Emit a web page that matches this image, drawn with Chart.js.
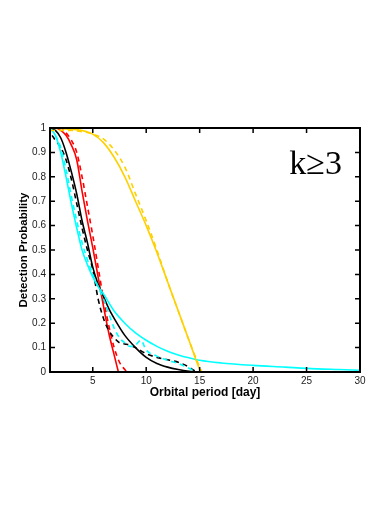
<!DOCTYPE html>
<html>
<head>
<meta charset="utf-8">
<script src="https://cdn.jsdelivr.net/npm/chart.js@4"></script>
<style>
  html, body { margin: 0; padding: 0; background: #fff; }
  #wrap { width: 381px; height: 523px; position: relative; }
</style>
</head>
<body>
<div id="wrap"><canvas id="chart"></canvas></div>
<script>
// period grids and detection probabilities
const cyanSolidX = [1, 1.5, 2, 2.5, 3, 3.5, 4, 4.5, 5, 5.5, 6, 7, 8, 9, 10, 11, 12, 13, 14, 15, 17, 20, 23, 25, 28, 30];
const cyanSolidY = [1, 0.97, 0.9, 0.8, 0.69, 0.59, 0.5, 0.44, 0.39, 0.35, 0.32, 0.25, 0.2, 0.16, 0.13, 0.105, 0.085, 0.07, 0.058, 0.048, 0.037, 0.027, 0.02, 0.015, 0.01, 0.007];

const cyanDashX = [1, 1.5, 2, 2.5, 3, 3.5, 4, 4.5, 5, 5.5, 6, 6.5, 7, 7.5, 8, 8.5, 9, 9.5, 10, 11, 12, 13, 14, 14.7];
const cyanDashY = [1, 0.97, 0.92, 0.83, 0.72, 0.62, 0.53, 0.46, 0.4, 0.35, 0.3, 0.24, 0.18, 0.14, 0.12, 0.105, 0.11, 0.13, 0.09, 0.065, 0.048, 0.035, 0.015, 0];

const blackSolidX = [1, 1.5, 2, 2.5, 3, 3.5, 4, 4.5, 5, 5.5, 6, 6.5, 7, 8, 9, 10, 11, 12, 13, 14, 14.7];
const blackSolidY = [1, 0.99, 0.96, 0.9, 0.82, 0.73, 0.62, 0.53, 0.43, 0.36, 0.31, 0.26, 0.22, 0.15, 0.1, 0.06, 0.035, 0.02, 0.01, 0.003, 0];

const blackDashX = [1.2, 1.5, 2, 2.5, 3, 3.5, 4, 4.5, 5, 5.5, 6, 6.5, 7, 7.5, 8, 8.5, 9, 10, 11, 12, 13, 14, 14.7];
const blackDashY = [0.97, 0.95, 0.92, 0.87, 0.79, 0.69, 0.59, 0.5, 0.42, 0.3, 0.22, 0.17, 0.14, 0.12, 0.115, 0.11, 0.1, 0.075, 0.06, 0.05, 0.04, 0.02, 0];

const redSolidX = [1, 1.5, 2, 2.5, 3, 3.5, 4, 4.5, 5, 5.5, 6, 6.5, 7, 7.4];
const redSolidY = [1, 1, 0.99, 0.97, 0.93, 0.87, 0.74, 0.62, 0.51, 0.39, 0.27, 0.16, 0.07, 0];

const redDashX = [1, 2, 2.5, 3, 3.5, 4, 4.5, 5, 5.5, 6, 6.5, 7, 7.5, 8, 8.2];
const redDashY = [1, 1, 0.98, 0.95, 0.9, 0.8, 0.68, 0.56, 0.43, 0.3, 0.19, 0.1, 0.04, 0.01, 0];

const yellowSolidX = [1, 3, 4, 5, 6, 7, 8, 9, 10, 11, 12, 13, 14, 15, 15.1];
const yellowSolidY = [1, 0.995, 0.99, 0.975, 0.94, 0.88, 0.8, 0.7, 0.6, 0.49, 0.37, 0.25, 0.13, 0.01, 0];

const yellowDashX = [1, 2, 3, 4, 5, 6, 7, 8, 9, 10, 11, 12, 13, 14, 15, 15.2];
const yellowDashY = [0.99, 0.99, 0.99, 0.985, 0.975, 0.955, 0.91, 0.84, 0.73, 0.62, 0.5, 0.37, 0.25, 0.13, 0.02, 0];

const xTicks = [5, 10, 15, 20, 25, 30];
const yTicks = [0, 0.1, 0.2, 0.3, 0.4, 0.5, 0.6, 0.7, 0.8, 0.9, 1];

const toPoints = (xs, ys) => xs.map((x, i) => ({ x, y: ys[i] }));

function series(xs, ys, color, dashed) {
  return {
    data: toPoints(xs, ys),
    borderColor: color,
    borderWidth: 1.6,
    borderDash: dashed ? [5, 4] : [],
    pointRadius: 0,
    tension: 0.4,
    cubicInterpolationMode: 'monotone',
    fill: false,
    clip: 2
  };
}

const frameAndTicks = {
  id: 'frameAndTicks',
  afterDraw(chart) {
    const { ctx, chartArea: a, scales } = chart;
    ctx.save();
    ctx.strokeStyle = '#000';
    ctx.lineWidth = 1.5;
    ctx.beginPath();
    xTicks.forEach((v) => {
      const px = scales.x.getPixelForValue(v);
      ctx.moveTo(px, a.bottom); ctx.lineTo(px, a.bottom - 5);
      ctx.moveTo(px, a.top); ctx.lineTo(px, a.top + 5);
    });
    yTicks.forEach((v) => {
      const py = scales.y.getPixelForValue(v);
      ctx.moveTo(a.left, py); ctx.lineTo(a.left + 5, py);
      ctx.moveTo(a.right, py); ctx.lineTo(a.right - 5, py);
    });
    ctx.stroke();
    ctx.lineWidth = 2;
    ctx.strokeRect(a.left, a.top, a.right - a.left, a.bottom - a.top);

    ctx.fillStyle = '#000';
    ctx.font = '34px "Liberation Serif", "DejaVu Serif", serif';
    ctx.textAlign = 'right';
    ctx.textBaseline = 'alphabetic';
    ctx.fillText('k≥3', a.right - 18, a.top + 46);
    ctx.restore();
  }
};

const tickFont = { family: '"Liberation Sans", Arial, sans-serif', size: 10 };

new Chart(document.getElementById('chart'), {
  type: 'line',
  data: {
    datasets: [
      series(yellowDashX, yellowDashY, '#ffd000', true),
      series(yellowSolidX, yellowSolidY, '#ffd000', false),
      series(cyanSolidX, cyanSolidY, '#00ffff', false),
      series(cyanDashX, cyanDashY, '#00ffff', true),
      series(blackSolidX, blackSolidY, '#000000', false),
      series(blackDashX, blackDashY, '#000000', true),
      series(redSolidX, redSolidY, '#ff0000', false),
      series(redDashX, redDashY, '#ff0000', true)
    ]
  },
  options: {
    responsive: true,
    maintainAspectRatio: false,
    animation: false,
    layout: { padding: { top: 128, right: 21, left: 0, bottom: 123 } },
    plugins: { legend: { display: false }, tooltip: { enabled: false } },
    scales: {
      x: {
        type: 'linear',
        min: 1,
        max: 30,
        afterBuildTicks: (axis) => { axis.ticks = xTicks.map((value) => ({ value })); },
        afterFit: (axis) => { axis.height = 28; },
        grid: { display: false, drawTicks: false },
        border: { display: false },
        ticks: { padding: 3, color: '#222', font: tickFont, callback: (v) => String(v) },
        title: {
          display: true,
          text: 'Orbital period [day]',
          color: '#000',
          padding: { top: 0, bottom: 0 },
          font: { family: '"Liberation Sans", Arial, sans-serif', size: 12, weight: 'bold' }
        }
      },
      y: {
        type: 'linear',
        min: 0,
        max: 1,
        afterBuildTicks: (axis) => { axis.ticks = yTicks.map((value) => ({ value })); },
        afterFit: (axis) => { axis.width = 50; },
        grid: { display: false, drawTicks: false },
        border: { display: false },
        ticks: { padding: 4, color: '#222', font: tickFont, callback: (v) => String(v) },
        title: {
          display: true,
          text: 'Detection Probability',
          color: '#000',
          padding: { top: 17, bottom: 0 },
          font: { family: '"Liberation Sans", Arial, sans-serif', size: 11.5, weight: 'bold' }
        }
      }
    }
  },
  plugins: [frameAndTicks]
});
</script>
</body>
</html>
